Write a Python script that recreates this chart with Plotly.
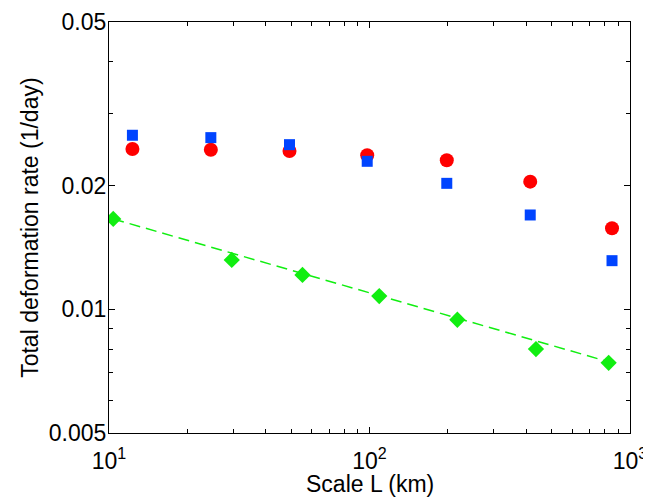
import math
import plotly.graph_objects as go

# Data
scale_L = [12.3, 24.6, 49.3, 98.0, 198.0, 414.0, 853.0]
rate_red = [0.02455, 0.02445, 0.02427, 0.02371, 0.02305, 0.02044, 0.01574]
rate_blue = [0.02651, 0.02616, 0.02515, 0.02291, 0.02025, 0.01696, 0.01313]

scale_green = [10.38, 29.6, 55.3, 109.0, 217.4, 435.5, 828.0]
rate_green = [0.01659, 0.01318, 0.01212, 0.01077, 0.00943, 0.00800, 0.00741]

fit_x = [10.38, 828.0]
fit_y = [0.01659, 0.00745]

x_ticks = [10, 100, 1000]
x_ticklabels = ["10<sup>1</sup>", "10<sup>2</sup>", "10<sup>3</sup>"]
x_minor = [20, 30, 40, 50, 60, 70, 80, 90, 200, 300, 400, 500, 600, 700, 800, 900]
y_ticks = [0.005, 0.01, 0.02, 0.05]
y_ticklabels = ["0.005", "0.01", "0.02", "0.05"]
y_minor = [0.006, 0.007, 0.008, 0.009, 0.03, 0.04]

x_title = "Scale L (km)"
y_title = "Total deformation rate (1/day)"

RED = "#ff0000"
BLUE = "#0044ff"
GREEN = "#11ee11"
FONT = "Liberation Sans, Arial, sans-serif"

fig = go.Figure()
fig.add_trace(go.Scatter(x=fit_x, y=fit_y, mode="lines",
                         line=dict(color=GREEN, width=1.5, dash="11px,6px")))
fig.add_trace(go.Scatter(x=scale_L, y=rate_red, mode="markers",
                         marker=dict(symbol="circle", size=14, color=RED, line=dict(width=0))))
fig.add_trace(go.Scatter(x=scale_L, y=rate_blue, mode="markers",
                         marker=dict(symbol="square", size=11, color=BLUE, line=dict(width=0))))
fig.add_trace(go.Scatter(x=scale_green, y=rate_green, mode="markers",
                         marker=dict(symbol="diamond", size=12.5, color=GREEN, line=dict(width=0))))

axis_common = dict(
    showgrid=False, zeroline=False, showline=True, linecolor="black", linewidth=1.2,
    mirror="ticks", ticks="inside", ticklen=6, tickwidth=1, tickcolor="black",
    automargin=False,
    tickfont=dict(size=23, color="black", family=FONT),
)

# The page body adds an 8px offset, so the figure is 8px smaller and margins shifted.
fig.update_layout(
    width=643, height=489,
    margin=dict(l=101, r=21, t=14, b=64),
    paper_bgcolor="white", plot_bgcolor="white",
    showlegend=False,
    font=dict(family=FONT, color="black", size=23),
    xaxis=dict(type="log", range=[1, 3], tickmode="array", tickvals=x_ticks,
               ticktext=x_ticklabels, ticklabelstandoff=7,
               minor=dict(tickmode="array", tickvals=x_minor, ticks="inside", ticklen=3.5,
                          tickcolor="black", tickwidth=1),
               **axis_common),
    yaxis=dict(type="log", range=[math.log10(0.005), math.log10(0.05)], tickmode="array",
               tickvals=y_ticks, ticktext=y_ticklabels, ticklabelstandoff=-3,
               minor=dict(tickmode="array", tickvals=y_minor, ticks="inside", ticklen=3.5,
                          tickcolor="black", tickwidth=1),
               **axis_common),
    annotations=[
        dict(text=x_title, xref="paper", yref="paper", x=0.5, y=-0.1238,
             xanchor="center", yanchor="middle", showarrow=False,
             font=dict(size=23, color="black", family=FONT)),
        dict(text=y_title, xref="paper", yref="paper", x=-0.1529, y=0.5,
             xanchor="center", yanchor="middle", textangle=-90, showarrow=False,
             font=dict(size=23, color="black", family=FONT)),
    ],
)

fig.write_html("out.html")
